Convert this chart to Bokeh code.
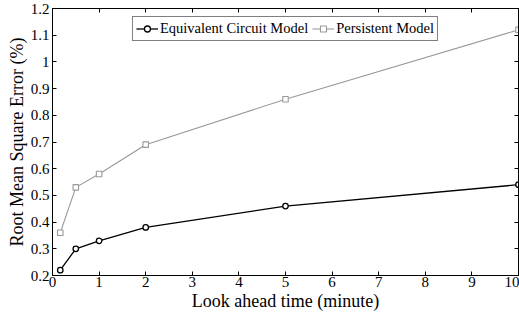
from bokeh.plotting import figure
from bokeh.models import (LinearAxis, FixedTicker, CustomJSTickFormatter, Range1d,
                          Legend, LegendItem)
from bokeh.embed import file_html
from bokeh.resources import INLINE

# Data
look_ahead_min = [1/6, 0.5, 1, 2, 5, 10]
ecm_rmse = [0.22, 0.30, 0.33, 0.38, 0.46, 0.54]
persistent_rmse = [0.36, 0.53, 0.58, 0.69, 0.86, 1.12]

x_ticks = [0, 1, 2, 3, 4, 5, 6, 7, 8, 9, 10]
y_ticks = [0.2, 0.3, 0.4, 0.5, 0.6, 0.7, 0.8, 0.9, 1.0, 1.1, 1.2]

x_label = "Look ahead time (minute)"
y_label = "Root Mean Square Error (%)"
series_names = ["Equivalent Circuit Model", "Persistent Model"]

FONT = "Liberation Serif"
GRAY = "#999999"

p = figure(width=519, height=313, output_backend="svg", toolbar_location=None,
           x_range=Range1d(0, 10), y_range=Range1d(0.2, 1.2),
           min_border_left=52, min_border_right=1, min_border_top=8,
           min_border_bottom=0)
p.background_fill_color = "white"
p.border_fill_color = "white"
p.outline_line_color = "black"
p.outline_line_width = 1
p.xgrid.visible = False
p.ygrid.visible = False

fmt = CustomJSTickFormatter(code="return String(Math.round(tick*10)/10);")
blank = CustomJSTickFormatter(code="return '';")

def style_axis(ax, ticks, show_labels):
    ax.ticker = FixedTicker(ticks=ticks)
    ax.major_tick_in = 4
    ax.major_tick_out = 0
    ax.minor_tick_in = 0
    ax.minor_tick_out = 0
    ax.major_tick_line_color = "black"
    ax.axis_line_color = "black"
    ax.major_label_text_font = FONT
    ax.major_label_text_color = "black"
    ax.major_label_text_font_size = "15px"
    if show_labels:
        ax.formatter = fmt
        ax.major_label_standoff = 1
    else:
        ax.formatter = blank
        ax.major_label_standoff = 0

style_axis(p.xaxis[0], x_ticks, True)
style_axis(p.yaxis[0], y_ticks, True)
p.yaxis[0].major_label_standoff = 3

p.xaxis[0].axis_label = x_label
p.yaxis[0].axis_label = y_label
for ax in (p.xaxis[0], p.yaxis[0]):
    ax.axis_label_text_font = FONT
    ax.axis_label_text_font_style = "normal"
    ax.axis_label_text_font_size = "18px"
    ax.axis_label_text_color = "black"
p.xaxis[0].axis_label_standoff = 1
p.yaxis[0].axis_label_standoff = 1

top_ax = LinearAxis()
style_axis(top_ax, x_ticks, False)
p.add_layout(top_ax, "above")
right_ax = LinearAxis()
style_axis(right_ax, y_ticks, False)
p.add_layout(right_ax, "right")

l1 = p.line(look_ahead_min, ecm_rmse, line_color="black", line_width=1.3)
s1 = p.scatter(look_ahead_min, ecm_rmse, marker="circle", size=5.5,
               fill_color="white", line_color="black", line_width=1.3)
l2 = p.line(look_ahead_min, persistent_rmse, line_color=GRAY, line_width=1.1)
s2 = p.scatter(look_ahead_min, persistent_rmse, marker="square", size=5.5,
               fill_color="white", line_color=GRAY, line_width=1.1)

legend = Legend(items=[LegendItem(label=series_names[0], renderers=[l1, s1]),
                       LegendItem(label=series_names[1], renderers=[l2, s2])],
                location="top_center", orientation="horizontal",
                border_line_color="black", border_line_width=1,
                background_fill_color="white", background_fill_alpha=1,
                label_text_font=FONT, label_text_font_size="14.5px",
                label_text_color="black",
                padding=3, spacing=4, margin=8, label_standoff=2,
                glyph_width=22, glyph_height=15, label_height=15)
p.add_layout(legend, "center")

open("out.html", "w").write(file_html(p, INLINE))
